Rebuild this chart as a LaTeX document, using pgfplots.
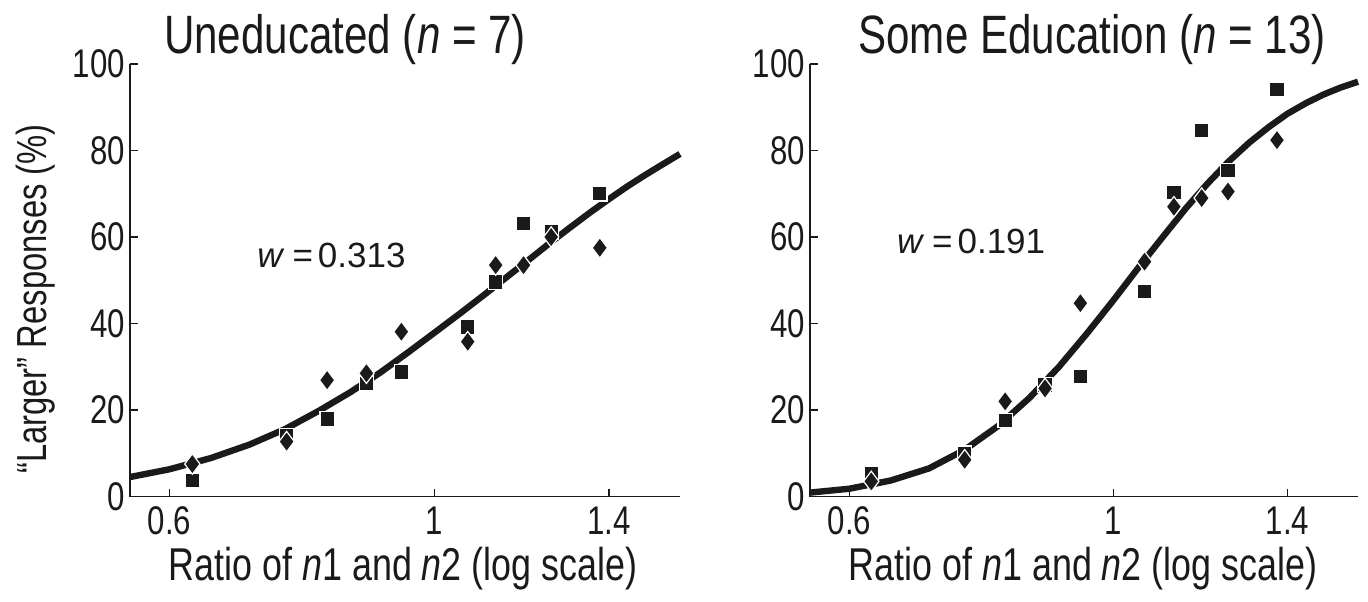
\documentclass[border=0pt]{standalone}
\usepackage{pgfplots}
\pgfplotsset{compat=1.18}
\usepackage{fontspec}
\setmainfont[FakeStretch=0.78]{Liberation Sans}
\newfontfamily\wfont[FakeStretch=1.0]{Liberation Sans}
\definecolor{ink}{HTML}{1A1A1A}

\begin{document}
\begin{tikzpicture}
\begin{axis}[name=L, at={(0,0)}, anchor=south west,
    scale only axis, width=275pt, height=216.25pt,
    xmode=log, xmin=0.556, xmax=1.605, ymin=0, ymax=100,
    axis lines*=left, axis line style={-, line width=0.8pt, ink},
    tick style={line width=0.8pt, ink}, tick align=inside, major tick length=4pt,
    xtick={0.6,1,1.4}, xticklabels={0.6,1,1.4},
    ytick={0,20,40,60,80,100},
    /pgf/number format/assume math mode=true,
    tick label style={font=\fontsize{20}{20}\selectfont, text=ink},
    xticklabel style={yshift=-1.5pt},
    yticklabel style={xshift=1pt},
    clip=false]
\addplot[no marks, line width=3.2pt, ink, line join=round] coordinates {
(0.556,4.5) (0.6,6.3) (0.65,8.9) (0.7,12.0) (0.75,15.6) (0.8,19.8) (0.85,24.1)
(0.9,28.6) (0.95,33.3) (1.0,37.9) (1.05,42.3) (1.1,46.6) (1.15,50.8) (1.2,54.8)
(1.25,58.7) (1.3,62.3) (1.35,65.7) (1.4,68.8) (1.45,71.7) (1.5,74.3) (1.55,76.7)
(1.605,79.2)};
\addplot[only marks, mark=square*, mark size=3.6pt, mark options={fill=ink, draw=white, line width=0.6pt}] coordinates {
(0.627,3.7) (0.752,14) (0.813,17.9) (0.877,26.2) (0.938,28.8) (1.066,39.2)
(1.125,49.6) (1.187,63.2) (1.252,61.2) (1.375,70)};
\addplot[only marks, mark=diamond*, mark size=5.1pt, mark options={fill=ink, draw=white, line width=0.6pt}] coordinates {
(0.627,7.5) (0.752,12.7) (0.813,26.9) (0.877,28.5) (0.938,38.1) (1.066,35.8)
(1.125,53.5) (1.187,53.5) (1.252,60) (1.375,57.5)};
\end{axis}

\begin{axis}[name=R, at={(340pt,0)}, anchor=south west,
    scale only axis, width=274pt, height=216.25pt,
    xmode=log, xmin=0.556, xmax=1.605, ymin=0, ymax=100,
    axis lines*=left, axis line style={-, line width=0.8pt, ink},
    tick style={line width=0.8pt, ink}, tick align=inside, major tick length=4pt,
    xtick={0.6,1,1.4}, xticklabels={0.6,1,1.4},
    ytick={0,20,40,60,80,100},
    /pgf/number format/assume math mode=true,
    tick label style={font=\fontsize{20}{20}\selectfont, text=ink},
    xticklabel style={yshift=-1.5pt},
    yticklabel style={xshift=1pt},
    clip=false]
\addplot[no marks, line width=3.2pt, ink, line join=round] coordinates {
(0.556,0.9) (0.6,1.8) (0.65,3.7) (0.7,6.5) (0.75,10.8) (0.8,16.3) (0.85,22.8)
(0.9,30.0) (0.95,37.7) (1.0,45.4) (1.05,53.0) (1.1,60.0) (1.15,66.6) (1.2,72.4)
(1.25,77.5) (1.3,81.8) (1.35,85.4) (1.4,88.5) (1.45,90.9) (1.5,92.9) (1.55,94.5)
(1.605,95.9)};
\addplot[only marks, mark=square*, mark size=3.6pt, mark options={fill=ink, draw=white, line width=0.6pt}] coordinates {
(0.626,5.4) (0.75,10) (0.811,17.6) (0.876,25.8) (0.938,27.7) (1.062,47.4)
(1.124,70.3) (1.186,84.6) (1.248,75.4) (1.372,94.1)};
\addplot[only marks, mark=diamond*, mark size=5.1pt, mark options={fill=ink, draw=white, line width=0.6pt}] coordinates {
(0.626,3.5) (0.75,8.5) (0.811,22) (0.876,25) (0.938,44.7) (1.062,54.3)
(1.124,67) (1.186,69) (1.248,70.5) (1.372,82.4)};
\end{axis}

% titles
\node[anchor=base, font=\fontsize{27}{30}\selectfont, text=ink] at ([shift={(107.5pt,221.75pt)}]L.south west) {Uneducated (\textit{n} = 7)};
\node[anchor=base, font=\fontsize{27}{30}\selectfont, text=ink] at ([shift={(141pt,221.75pt)}]R.south west) {Some Education (\textit{n} = 13)};
% x labels
\node[anchor=base, font=\fontsize{23}{25}\selectfont, text=ink] at ([shift={(136.5pt,-42pt)}]L.south west) {Ratio of \textit{n}1 and \textit{n}2 (log scale)};
\node[anchor=base, font=\fontsize{23}{25}\selectfont, text=ink] at ([shift={(136.5pt,-42pt)}]R.south west) {Ratio of \textit{n}1 and \textit{n}2 (log scale)};
% y label
\node[anchor=base, rotate=90, font=\fontsize{21}{24}\selectfont, text=ink] at ([shift={(-41.5pt,98.75pt)}]L.south west) {``Larger'' Responses (\%)};
% w labels
\node[anchor=base west, inner sep=0pt, font=\wfont\fontsize{17.5}{18}\selectfont, text=ink] at ([shift={(63.5pt,114.75pt)}]L.south west) {\textit{w}\kern4pt=\kern2.5pt0.313};
\node[anchor=base west, inner sep=0pt, font=\wfont\fontsize{17.5}{18}\selectfont, text=ink] at ([shift={(43.3pt,121.75pt)}]R.south west) {\textit{w}\kern4pt=\kern2.5pt0.191};

\pgfresetboundingbox
\path[use as bounding box] ([shift={(-65pt,-52.25pt)}]L.south west) rectangle ++(684pt,300.5pt);
\end{tikzpicture}
\end{document}
